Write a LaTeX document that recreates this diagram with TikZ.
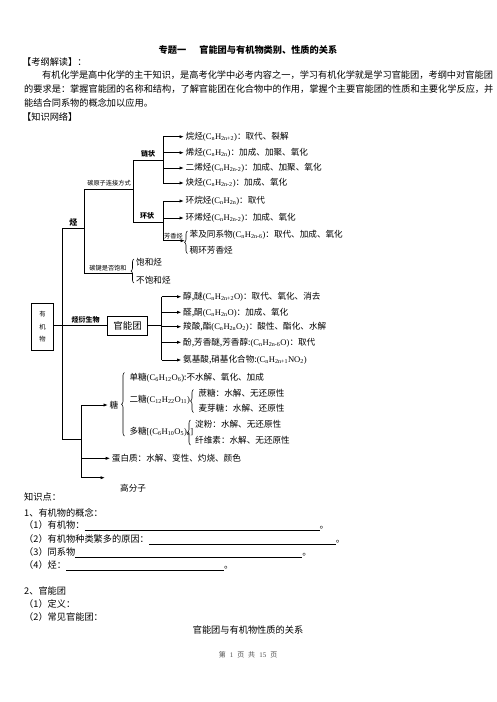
\documentclass[tikz,border=0pt]{standalone}
\usepackage{fontspec}
\setmainfont{Liberation Serif}
\newfontfamily\cjk{Noto Sans CJK SC}
\usetikzlibrary{arrows.meta,calc,decorations.pathreplacing}
\newcommand\fml[1]{{\rmfamily #1}}
\newcommand\sbs[1]{\textsubscript{#1}}

\begin{document}
\begin{tikzpicture}[x=1pt,y=-1pt,
  txt/.style={anchor=west,inner sep=0pt,font=\cjk\fontsize{8.6}{10}\selectfont},
  para/.style={anchor=west,inner sep=0pt,font=\cjk\fontsize{9.2}{11}\selectfont},
  tag/.style={inner sep=0pt,font=\cjk\fontsize{6.2}{7}\selectfont},
  btag/.style={inner sep=0pt,font=\cjk\bfseries\fontsize{7}{8}\selectfont},
  ln/.style={line width=0.8pt},
  arr/.style={ln,-{Latex[length=4.5pt,width=3.2pt]}},
  brc/.style={decorate,decoration={brace,amplitude=3pt},line width=0.6pt},
  box/.style={draw,line width=0.8pt,inner sep=0pt},
  rl/.style={line width=0.7pt}]
\useasboundingbox (0,0) rectangle (496,702);

% heading
\node[para,anchor=center,font=\cjk\bfseries\fontsize{9.2}{11}\selectfont] (ttl) at (248,50) {专题一\hspace{13pt}官能团与有机物类别、性质的关系};
\node[para] (kg) at (22,62.5) {【考纲解读】：};
\node[para] (p1) at (42,75.5) {有机化学是高中化学的主干知识，是高考化学中必考内容之一，学习有机化学就是学习官能团，考纲中对官能团};
\node[para] (p2) at (24,89.5) {的要求是：掌握官能团的名称和结构，了解官能团在化合物中的作用，掌握个主要官能团的性质和主要化学反应，并};
\node[para] (p3) at (24,103) {能结合同系物的概念加以应用。};
\node[para] (zw) at (22,116.5) {【知识网络】};

% hydrocarbons
\node[txt] (alk) at (185.5,136.7) {烷烃\fml{(C\sbs{n}H\sbs{2n+2})}：取代、裂解};
\node[txt] (ene) at (185.5,152.7) {烯烃\fml{(C\sbs{n}H\sbs{2n})}：加成、加聚、氧化};
\node[txt] (dien) at (185.5,168) {二烯烃\fml{(C\sbs{n}H\sbs{2n-2})}：加成、加聚、氧化};
\node[txt] (yne) at (185.5,183) {炔烃\fml{(C\sbs{n}H\sbs{2n-2})}：加成、氧化};
\node[txt] (cane) at (185.5,201) {环烷烃\fml{(C\sbs{n}H\sbs{2n})}：取代};
\node[txt] (cene) at (185.5,218) {环烯烃\fml{(C\sbs{n}H\sbs{2n-2})}：加成、氧化};
\node[txt] (benz) at (189.5,235) {苯及同系物\fml{(C\sbs{n}H\sbs{2n-6})}：取代、加成、氧化};
\node[txt] (fused) at (189.5,250.7) {稠环芳香烃};
\node[txt] (sat) at (136,262.7) {饱和烃};
\node[txt] (unsat) at (136,280) {不饱和烃};

\coordinate (fk1) at (163,160.7);
\coordinate (fk2) at (163,222);
\coordinate (fk0) at (133.3,189.3);
\coordinate (fk3) at (84.3,228.7);
\coordinate (arom) at (163,240.7);
\coordinate (arend) at (185,240.7);

\draw[ln] (fk1 |- alk.west) -- (fk1 |- yne.west);
\foreach \n in {alk,ene,dien,yne}
  \draw[arr] (fk1 |- \n.west) -- ([xshift=-1.5pt]\n.west);
\draw[ln] (fk2 |- cane.west) -- (arom);
\foreach \n in {cane,cene}
  \draw[arr] (fk2 |- \n.west) -- ([xshift=-1.5pt]\n.west);
\draw[arr] (arom) -- (arend);
\node[tag,anchor=south] (aromlbl) at (173.5,239.5) {芳香烃};
\draw[brc] (187.5,253.5) -- (187.5,231);

\draw[ln] (fk0 |- fk1) -- (fk1);
\draw[ln] (fk0 |- fk2) -- (fk2);
\draw[ln] (fk0 |- fk1) -- (fk0 |- fk2);
\node[btag] (chain) at (148,154.3) {链状};
\node[btag] (ring) at (147,215.7) {环状};

\draw[ln] (fk3 |- fk0) -- (fk0);
\node[tag] (link) at (109,182.7) {碳原子连接方式};
\draw[ln] (fk3 |- fk0) -- (84.3,273.3) -- (132.7,273.3);
\node[tag] (bond) at (108,267.7) {碳键是否饱和};
\draw[brc] (134,283) -- (134,259);

% organic compounds
\coordinate (mv) at (62.3,228.7);
\draw[ln] (mv) -- (fk3);
\node[btag,font=\cjk\bfseries\fontsize{8}{9}\selectfont] (hc) at (73.3,222.8) {烃};
\draw[ln] (mv) -- (62.3,439.3) -- (81,439.3);

\node[box,minimum width=21.6pt,minimum height=46.7pt,align=center,font=\cjk\fontsize{6.3}{12.7}\selectfont] (org) at (42.5,326.7) {有\\机\\物};
\node[box,minimum width=40.4pt,minimum height=19.3pt,font=\cjk\fontsize{9.5}{11}\selectfont] (fg) at (127.5,325.7) {官能团};
\draw[ln] (fg.west -| org.east) -- (fg.west);
\node[btag] (deriv) at (85.5,320) {烃衍生物};

% functional groups
\node[txt] (alc) at (183,296.7) {醇,醚\fml{(C\sbs{n}H\sbs{2n+2}O)}：取代、氧化、消去};
\node[txt] (ald) at (183,312.3) {醛,酮\fml{(C\sbs{n}H\sbs{2n}O)}：加成、氧化};
\node[txt] (acid) at (183,326.7) {羧酸,酯\fml{(C\sbs{n}H\sbs{2n}O\sbs{2})}：酸性、酯化、水解};
\node[txt] (phen) at (183,342.3) {酚,芳香醚,芳香醇:\fml{(C\sbs{n}H\sbs{2n-6}O)}：取代};
\node[txt] (amino) at (183,360) {氨基酸,硝基化合物:\fml{(C\sbs{n}H\sbs{2n+1}NO\sbs{2})}};

\coordinate (fk4) at (161.7,325.7);
\draw[ln] (fg.east) -- (fk4);
\draw[ln] (fk4 |- alc.west) -- (fk4 |- amino.west);
\foreach \n in {alc,ald,acid,phen,amino}
  \draw[arr] (fk4 |- \n.west) -- ([xshift=-1.5pt]\n.west);

% polymers
\node[txt] (sugar) at (109.5,405) {糖};
\node[txt] (mono) at (129.3,377.7) {单糖\fml{(C\sbs{6}H\sbs{12}O\sbs{6})}:不水解、氧化、加成};
\node[txt] (di) at (129.3,400) {二糖\fml{(C\sbs{12}H\sbs{22}O\sbs{11})}};
\node[txt] (sucr) at (198.3,393.3) {蔗糖：水解、无还原性};
\node[txt] (malt) at (198.3,408.3) {麦芽糖：水解、还原性};
\node[txt] (poly) at (129.3,431.7) {多糖\fml{[(C\sbs{6}H\sbs{10}O\sbs{5})\sbs{n}]}};
\node[txt] (starch) at (195,424.3) {淀粉：水解、无还原性};
\node[txt] (cell) at (195,440.7) {纤维素：水解、无还原性};
\node[txt] (prot) at (111.7,458.3) {蛋白质：水解、变性、灼烧、颜色};
\node[txt] (macro) at (120,488.3) {高分子};

\draw[brc] (124.5,436) -- (124.5,372.5);
\draw[brc] (193.5,412.5) -- (193.5,389.5);
\draw[brc] (190.5,445) -- (190.5,420);

\coordinate (fk5) at (81,439.3);
\coordinate (free) at (105,477.7);
\draw[ln] (fk5 |- sugar.west) -- (fk5 |- free);
\draw[arr] (fk5 |- sugar.west) -- ([xshift=-1.5pt]sugar.west);
\draw[arr] (fk5 |- prot.west) -- ([xshift=-1.5pt]prot.west);
\draw[arr] (fk5 |- free) -- (free);

% knowledge points
\node[para] (kp) at (24,497) {知识点：};
\node[para] (k1) at (24,513.3) {1、有机物的概念：};
\node[para] (k11) at (24,526) {（1）有机物：\rule[-2.2pt]{235pt}{0.7pt}。};
\node[para] (k12) at (24,539.3) {（2）有机物种类繁多的原因：\rule[-2.2pt]{187pt}{0.7pt}。};
\node[para] (k13) at (24,552.3) {（3）同系物\rule[-2.2pt]{227pt}{0.7pt}。};
\node[para] (k14) at (24,565.7) {（4）烃：\rule[-2.2pt]{158pt}{0.7pt}。};
\node[para] (k2) at (24,590.7) {2、官能团};
\node[para] (k21) at (24,604.3) {（1）定义：};
\node[para] (k22) at (24,617.3) {（2）常见官能团：};
\node[para,anchor=center] (tbl) at (248,630) {官能团与有机物性质的关系};
\node[tag,anchor=center,text=black!70,font=\cjk\fontsize{7}{8}\selectfont] (pg) at (248,655) {第\hspace{4pt}\fml{1}\hspace{4pt}页\hspace{4pt}共\hspace{4pt}\fml{15}\hspace{4pt}页};
\end{tikzpicture}
\end{document}
